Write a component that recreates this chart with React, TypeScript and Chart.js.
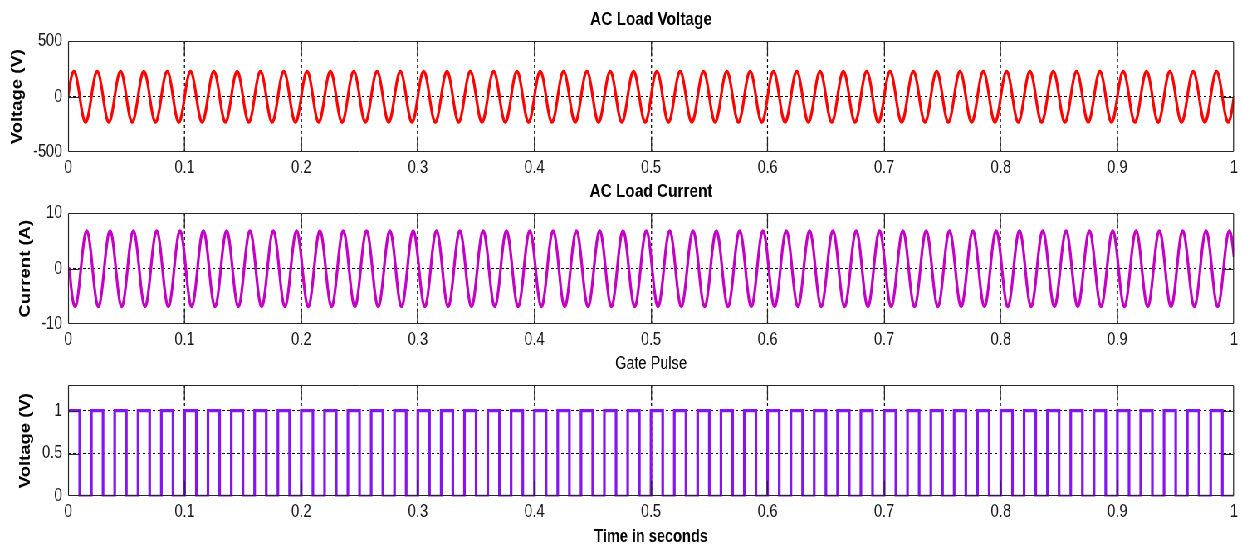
import React, { useEffect, useRef } from 'react';
import { Chart, registerables } from 'chart.js';

Chart.register(...registerables);

// ---------- data ----------
const xTickValues = [0, 0.1, 0.2, 0.3, 0.4, 0.5, 0.6, 0.7, 0.8, 0.9, 1];
const xTickLabels = ['0', '0.1', '0.2', '0.3', '0.4', '0.5', '0.6', '0.7', '0.8', '0.9', '1'];

// start time of each 50 Hz cycle (seconds)
const cycleStarts = [
  0, 0.02, 0.04, 0.06, 0.08, 0.1, 0.12, 0.14, 0.16, 0.18,
  0.2, 0.22, 0.24, 0.26, 0.28, 0.3, 0.32, 0.34, 0.36, 0.38,
  0.4, 0.42, 0.44, 0.46, 0.48, 0.5, 0.52, 0.54, 0.56, 0.58,
  0.6, 0.62, 0.64, 0.66, 0.68, 0.7, 0.72, 0.74, 0.76, 0.78,
  0.8, 0.82, 0.84, 0.86, 0.88, 0.9, 0.92, 0.94, 0.96, 0.98,
];
// sample instants inside one cycle (seconds after the cycle start)
const sampleOffsets = [0, 0.00167, 0.00333, 0.005, 0.00667, 0.00833, 0.01, 0.01167, 0.01333, 0.015, 0.01667, 0.01833];

// AC load voltage (V) over one cycle
const voltageCycle = [0, 114, 197, 228, 197, 114, 0, -114, -197, -228, -197, -114];
const voltageAtEnd = 0;

// AC load current (A) over one cycle, lagging the cycle start by currentLag
const currentCycle = [0, -3.4, -5.9, -6.8, -5.9, -3.4, 0, 3.4, 5.9, 6.8, 5.9, 3.4];
const currentLag = 0.001;
const currentAtStart = 0;
const currentAtEnd = 2.1;

// gate pulse: high at each cycle start, low after pulseWidth
const pulseHigh = 1;
const pulseLow = 0;
const pulseWidth = 0.01;

const voltageTicks = [-500, 0, 500];
const voltageTickLabels = ['-500', '0', '500'];
const currentTicks = [-10, 0, 10];
const currentTickLabels = ['-10', '0', '10'];
const pulseTicks = [0, 0.5, 1];
const pulseTickLabels = ['0', '0.5', '1'];

// ---------- build series ----------
const voltagePoints: { x: number; y: number }[] = [];
cycleStarts.forEach((c) => {
  sampleOffsets.forEach((o, k) => voltagePoints.push({ x: c + o, y: voltageCycle[k] }));
});
voltagePoints.push({ x: 1, y: voltageAtEnd });

const currentPoints: { x: number; y: number }[] = [{ x: 0, y: currentAtStart }];
cycleStarts.forEach((c) => {
  sampleOffsets.forEach((o, k) => {
    const t = c + currentLag + o;
    if (t < 1) currentPoints.push({ x: t, y: currentCycle[k] });
  });
});
currentPoints.push({ x: 1, y: currentAtEnd });

const pulsePoints: { x: number; y: number }[] = [];
cycleStarts.forEach((c) => {
  pulsePoints.push({ x: c, y: pulseHigh });
  pulsePoints.push({ x: c + pulseWidth, y: pulseLow });
});
pulsePoints.push({ x: 1, y: pulseLow });

// ---------- layout ----------
const CW = 1496; // canvas width before horizontal squeeze
const SX = 1242 / CW;
const PLOT_LEFT = 82;
const PAD_RIGHT = 8;
const FONT = "'Liberation Sans', Arial, sans-serif";
const TICK_COLOR = '#1a1a1a';
const TICK_SIZE = 17.5;

// snap a canvas x so that after the horizontal squeeze it lands on a pixel centre
const snapX = (x: number) => (Math.round(x * SX - 0.5) + 0.5) / SX;
const VLINE = 1 / SX;

const xGridPlugin = {
  id: 'matlabXGrid',
  beforeDatasetsDraw(chart: any) {
    const { ctx, chartArea } = chart;
    const { left, right, top, bottom } = chartArea;
    const xs = chart.scales.x;
    ctx.save();
    ctx.strokeStyle = '#000';
    ctx.lineWidth = VLINE;
    ctx.setLineDash([3, 3]);
    ctx.beginPath();
    xs.ticks.forEach((t: any) => {
      const px = xs.getPixelForValue(t.value);
      if (px <= left + 2 || px >= right - 2) return;
      const sx = snapX(px);
      ctx.moveTo(sx, top);
      ctx.lineTo(sx, bottom);
    });
    ctx.stroke();
    ctx.restore();
  },
};

const framePlugin = {
  id: 'matlabFrame',
  afterDatasetsDraw(chart: any) {
    const { ctx, chartArea } = chart;
    const left = snapX(chartArea.left);
    const right = snapX(chartArea.right - 1);
    const top = Math.round(chartArea.top) + 0.5;
    const bottom = Math.round(chartArea.bottom) - 0.5;
    const xs = chart.scales.x;
    const ys = chart.scales.y;
    ctx.save();
    ctx.strokeStyle = '#262626';
    ctx.setLineDash([]);
    // horizontal parts
    ctx.lineWidth = 1;
    ctx.beginPath();
    ctx.moveTo(left, top);
    ctx.lineTo(right, top);
    ctx.moveTo(left, bottom);
    ctx.lineTo(right, bottom);
    ys.ticks.forEach((t: any) => {
      const py = Math.round(ys.getPixelForValue(t.value)) + 0.5;
      if (py <= top + 2 || py >= bottom - 2) return;
      ctx.moveTo(left, py);
      ctx.lineTo(left + 13, py);
      ctx.moveTo(right, py);
      ctx.lineTo(right - 13, py);
    });
    ctx.stroke();
    // vertical parts
    ctx.lineWidth = VLINE;
    ctx.beginPath();
    ctx.moveTo(left, top);
    ctx.lineTo(left, bottom);
    ctx.moveTo(right, top);
    ctx.lineTo(right, bottom);
    xs.ticks.forEach((t: any) => {
      const px = xs.getPixelForValue(t.value);
      if (px <= chartArea.left + 2 || px >= chartArea.right - 2) return;
      const sx = snapX(px);
      ctx.moveTo(sx, top);
      ctx.lineTo(sx, top + 15);
      ctx.moveTo(sx, bottom);
      ctx.lineTo(sx, bottom - 15);
    });
    ctx.stroke();
    ctx.restore();
  },
};

type Panel = {
  top: number;
  height: number;
  title: string;
  titleWeight: string;
  titleSize: number;
  yTitle: string;
  yTitlePad: number;
  yMin: number;
  yMax: number;
  yTicks: number[];
  yLabels: string[];
  points: { x: number; y: number }[];
  color: string;
  stepped: boolean;
  xTitle?: string;
  padBottom: number;
};

const panels: Panel[] = [
  {
    top: 0, height: 184, title: 'AC Load Voltage', titleWeight: 'bold', titleSize: 18.5,
    yTitle: 'Voltage (V)', yTitlePad: 10, yMin: -500, yMax: 500,
    yTicks: voltageTicks, yLabels: voltageTickLabels, points: voltagePoints,
    color: '#ff0000', stepped: false, padBottom: 1,
  },
  {
    top: 172, height: 184, title: 'AC Load Current', titleWeight: 'bold', titleSize: 18.5,
    yTitle: 'Current (A)', yTitlePad: 19.6, yMin: -10, yMax: 10,
    yTicks: currentTicks, yLabels: currentTickLabels, points: currentPoints,
    color: '#c400c4', stepped: false, padBottom: 1,
  },
  {
    top: 344, height: 204, title: 'Gate Pulse', titleWeight: 'normal', titleSize: 17.5,
    yTitle: 'Voltage (V)', yTitlePad: 19.6, yMin: 0, yMax: 1.3,
    yTicks: pulseTicks, yLabels: pulseTickLabels, points: pulsePoints,
    color: '#8614f0', stepped: true, xTitle: 'Time in seconds', padBottom: 0,
  },
];

function edgeHidden(min: number, max: number) {
  return (c: any) => {
    const v = c.tick ? c.tick.value : NaN;
    return v === min || v === max ? 'rgba(0,0,0,0)' : '#000';
  };
}

function buildConfig(p: Panel): any {
  const tLH = p.titleSize * 1.2;
  const tTop = 20 - tLH / 2;
  const tBottom = 41 - tTop - tLH;
  return {
    type: 'line',
    data: {
      datasets: [
        {
          data: p.points,
          borderColor: p.color,
          backgroundColor: p.color,
          borderWidth: 3.2,
          pointRadius: 0,
          fill: false,
          stepped: p.stepped ? 'before' : false,
          cubicInterpolationMode: p.stepped ? 'default' : 'monotone',
          tension: 0,
        },
      ],
    },
    options: {
      animation: false,
      responsive: false,
      devicePixelRatio: 1,
      events: [],
      layout: { padding: { left: 0, right: PAD_RIGHT, top: 0, bottom: p.padBottom } },
      plugins: {
        legend: { display: false },
        tooltip: { enabled: false },
        title: {
          display: true,
          text: p.title,
          fullSize: false,
          color: '#000',
          font: { family: FONT, size: p.titleSize, weight: p.titleWeight, lineHeight: 1.2 },
          padding: { top: tTop, bottom: tBottom },
        },
      },
      scales: {
        x: {
          type: 'linear',
          min: 0,
          max: 1,
          afterBuildTicks: (s: any) => {
            s.ticks = xTickValues.map((v) => ({ value: v }));
          },
          ticks: {
            callback: (_v: any, i: number) => xTickLabels[i],
            color: TICK_COLOR,
            font: { family: FONT, size: TICK_SIZE, lineHeight: 1.2 },
            padding: 4.8,
            maxRotation: 0,
            autoSkip: false,
          },
          grid: { display: false, drawTicks: false },
          border: { display: false },
          title: p.xTitle
            ? {
                display: true,
                text: p.xTitle,
                color: '#000',
                font: { family: FONT, size: 17.5, weight: 'bold', lineHeight: 1.2 },
                padding: { top: 0, bottom: 0 },
              }
            : { display: false },
        },
        y: {
          type: 'linear',
          min: p.yMin,
          max: p.yMax,
          afterBuildTicks: (s: any) => {
            s.ticks = p.yTicks.map((v) => ({ value: v }));
          },
          afterFit: (s: any) => {
            s.width = PLOT_LEFT;
          },
          ticks: {
            callback: (_v: any, i: number) => p.yLabels[i],
            color: TICK_COLOR,
            font: { family: FONT, size: TICK_SIZE, lineHeight: 1.2 },
            padding: 7,
            autoSkip: false,
          },
          grid: { display: true, drawTicks: false, color: edgeHidden(p.yMin, p.yMax), lineWidth: 1 },
          border: { display: false, dash: [3, 3] },
          title: {
            display: true,
            text: p.yTitle,
            color: '#000',
            font: { family: FONT, size: 18.5, weight: 'bold', lineHeight: 1.2 },
            padding: { top: p.yTitlePad, bottom: 0 },
          },
        },
      },
    },
    plugins: [xGridPlugin, framePlugin],
  };
}

function PanelChart({ panel }: { panel: Panel }) {
  const ref = useRef<HTMLCanvasElement | null>(null);
  useEffect(() => {
    if (!ref.current) return;
    const chart = new Chart(ref.current, buildConfig(panel));
    return () => chart.destroy();
  }, [panel]);
  return (
    <canvas
      ref={ref}
      width={CW}
      height={panel.height}
      style={{ position: 'absolute', left: 0, top: panel.top, width: CW, height: panel.height, display: 'block' }}
    />
  );
}

export default function App() {
  return (
    <div style={{ position: 'absolute', left: 0, top: 0, width: 1242, height: 547, overflow: 'hidden', background: '#fff' }}>
      <div style={{ position: 'relative', width: CW, height: 548, transform: `scaleX(${SX})`, transformOrigin: '0 0' }}>
        {panels.map((p, i) => (
          <PanelChart key={i} panel={p} />
        ))}
      </div>
    </div>
  );
}
